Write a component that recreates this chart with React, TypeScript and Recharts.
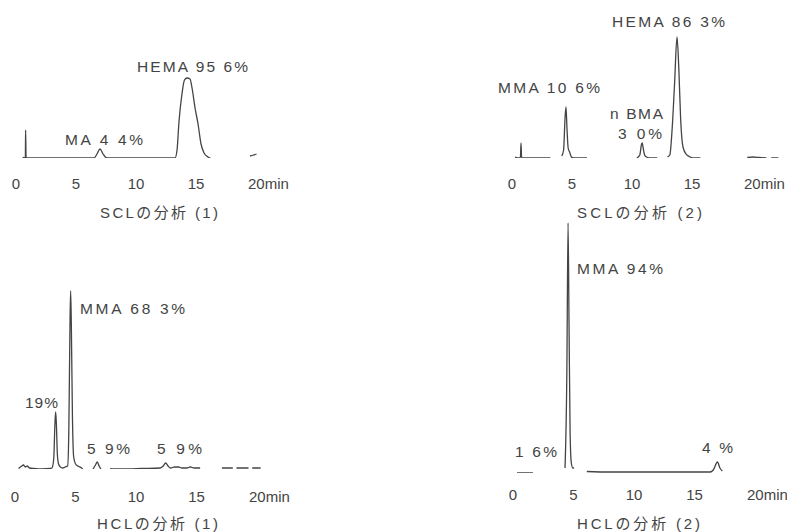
import React from 'react';
import { LineChart, Line, XAxis, YAxis } from 'recharts';

// ---- data: [time (min), detector signal] ; null = pen lifted
const timeTicks = [0, 5, 10, 15, 20];

const scl1Trace: [number, number | null][] = [
  [0.55, 0.5], [0.78, 0], [0.8, 28], [0.84, 1], [0.92, 0], [3, 0], [5, 0], [6.5, 0],
  [6.75, 4], [7.0, 9], [7.25, 4], [7.5, 0.5], [7.7, 0], [10, 0], [12.5, 0], [13.25, 0],
  [13.42, 8], [13.58, 36], [13.83, 64], [14.04, 78], [14.25, 80], [14.5, 79], [14.67, 70],
  [14.92, 50], [15.17, 34], [15.42, 14], [15.67, 5], [16.0, 1], [16.2, 0], [16.3, null],
  [19.5, 2], [19.8, 3], [20.05, 4],
];

const scl2Trace: [number, number | null][] = [
  [0.25, 1], [0.55, 0], [0.7, 0], [0.75, 15], [0.8, 1], [0.9, 0], [3.2, 0], [3.3, null],
  [4.15, 2], [4.3, 8], [4.42, 40], [4.5, 51], [4.58, 30], [4.68, 10], [4.8, 6], [4.95, 1],
  [5.1, 0], [6.25, 0], [6.3, null],
  [10.4, 0], [10.65, 3], [10.78, 13], [10.85, 15], [10.93, 10], [11.05, 3], [11.2, 1],
  [11.6, 0], [12.1, 0], [12.2, null],
  [12.95, 1], [13.15, 3], [13.35, 30], [13.55, 75], [13.75, 121], [13.9, 90], [14.05, 40],
  [14.25, 11], [14.5, 4], [14.85, 1], [15.2, 0], [15.7, 0], [15.8, null],
  [19.6, 0.5], [20.1, 1], [20.6, 0.5], [21.2, 0], [21.4, null], [21.6, 0], [22.2, 0],
];

const hcl1Trace: [number, number | null][] = [
  [0.3, 0.5], [0.55, 3], [0.7, 4], [0.85, 2], [1.0, 3], [1.2, 1], [1.6, 0.5], [2.2, 0],
  [2.9, 0.5], [3.05, 1], [3.2, 10], [3.3, 45], [3.36, 57], [3.42, 45], [3.5, 15], [3.6, 5],
  [3.75, 2], [3.95, 1], [4.15, 2], [4.35, 3], [4.45, 40], [4.55, 150], [4.6, 178],
  [4.66, 140], [4.75, 50], [4.85, 12], [5.0, 5], [5.2, 3], [5.5, 1], [5.6, 0], [5.7, null],
  [6.45, 0], [6.65, 4], [6.8, 7], [6.95, 3], [7.1, 0], [7.2, null],
  [7.85, 0], [9, 0], [10.5, 0.5], [12.0, 1], [12.25, 3], [12.45, 6], [12.65, 3], [12.85, 1],
  [13.2, 2], [13.5, 2], [13.8, 1], [14.2, 1], [14.5, 2], [14.8, 1], [15.3, 1], [15.4, null],
  [17.1, 1], [18.0, 1], [18.1, null], [18.3, 1], [19.3, 1], [19.4, null], [19.6, 1], [20.3, 1],
];

const hcl2Trace: [number, number | null][] = [
  [0.33, 0], [1.65, 0], [1.7, null],
  [4.3, 5], [4.45, 100], [4.55, 250], [4.63, 150], [4.72, 40], [4.82, 10], [4.95, 5],
  [5.05, 5], [5.1, null],
  [6.1, 1.5], [8, 1], [10, 1], [12, 1], [14, 1], [16.3, 1], [16.55, 3], [16.9, 11],
  [17.1, 5], [17.3, 2],
];

const scl1Labels = ['HEMA 95 6%', 'MA 4 4%'];
const scl2Labels = ['HEMA 86 3%', 'MMA 10 6%', 'n BMA', '3 0%'];
const hcl1Labels = ['MMA 68 3%', '19%', '5 9%', '5 9%'];
const hcl2Labels = ['MMA 94%', '1 6%', '4 %'];
const captions = ['SCLの分析 (1)', 'SCLの分析 (2)', 'HCLの分析 (1)', 'HCLの分析 (2)'];

const toRows = (trace: [number, number | null][]) => trace.map(([t, v]) => ({ t, v }));

const INK = '#444444';
const FONT = '"Liberation Sans", Arial, "Noto Sans CJK JP", sans-serif';

const makeTick = (tickFont: number) => (props: any) => {
  const { x, y, payload } = props;
  const val = payload.value;
  if (val === 20) {
    return (
      <text x={x - 8} y={y} dominantBaseline="central" textAnchor="start"
        fontSize={tickFont} fill={INK} fontFamily={FONT}>20min</text>
    );
  }
  return (
    <text x={x} y={y} dominantBaseline="central" textAnchor="middle"
      fontSize={tickFont} fill={INK} fontFamily={FONT}>{val}</text>
  );
};

type PanelProps = {
  trace: [number, number | null][];
  x0: number; // pixel of t = 0
  pxPerMin: number;
  baseline: number; // pixel of signal 0
  yMax: number;
  tickGap: number;
};

const M = 20;

function Panel({ trace, x0, pxPerMin, baseline, yMax, tickGap }: PanelProps) {
  const plotW = 23 * pxPerMin;
  const plotH = yMax;
  const axisH = 40;
  return (
    <div style={{ position: 'absolute', left: x0 - M, top: baseline - plotH }}>
      <LineChart width={plotW + 2 * M} height={plotH + axisH} data={toRows(trace)}
        margin={{ top: 0, right: M, bottom: 0, left: M }}>
        <XAxis dataKey="t" type="number" domain={[0, 23]} ticks={timeTicks} interval={0}
          axisLine={false} tickLine={false} tickSize={0} tickMargin={tickGap}
          height={axisH} tick={makeTick(15)} allowDataOverflow />
        <YAxis hide type="number" domain={[0, yMax]} allowDataOverflow />
        <Line dataKey="v" type="monotone" stroke={INK} strokeWidth={1.3} dot={false}
          activeDot={false} isAnimationActive={false} connectNulls={false} />
      </LineChart>
    </div>
  );
}

function Label({ x, y, w, children, size = 15.5 }: { x: number; y: number; w: number; children: React.ReactNode; size?: number }) {
  return (
    <text x={x} y={y} textLength={w} lengthAdjust="spacing" dominantBaseline="central"
      fontSize={size} fill={INK} fontFamily={FONT}>{children}</text>
  );
}

export default function App() {
  return (
    <div style={{ position: 'absolute', left: 0, top: 0, width: 787, height: 532, overflow: 'hidden', background: '#fff' }}>
      <Panel trace={scl1Trace} x0={16} pxPerMin={12} baseline={158} yMax={130} tickGap={25} />
      <Panel trace={scl2Trace} x0={512} pxPerMin={12} baseline={158} yMax={130} tickGap={25} />
      <Panel trace={hcl1Trace} x0={15} pxPerMin={12.1} baseline={469} yMax={260} tickGap={28} />
      <Panel trace={hcl2Trace} x0={513} pxPerMin={12.1} baseline={473} yMax={260} tickGap={22} />
      <svg width={787} height={532} style={{ position: 'absolute', left: 0, top: 0, pointerEvents: 'none' }}>
        <Label x={137} y={66} w={111}>{scl1Labels[0]}</Label>
        <Label x={65} y={139} w={78}>{scl1Labels[1]}</Label>

        <Label x={612} y={21} w={113}>{scl2Labels[0]}</Label>
        <Label x={498} y={87} w={102}>{scl2Labels[1]}</Label>
        <Label x={610} y={113} w={53}>{scl2Labels[2]}</Label>
        <Label x={618} y={133} w={44}>{scl2Labels[3]}</Label>

        <Label x={80} y={308} w={105}>{hcl1Labels[0]}</Label>
        <Label x={25} y={402} w={33}>{hcl1Labels[1]}</Label>
        <Label x={87} y={448} w={43}>{hcl1Labels[2]}</Label>
        <Label x={157} y={448} w={45}>{hcl1Labels[3]}</Label>

        <Label x={577} y={268} w={86}>{hcl2Labels[0]}</Label>
        <Label x={515} y={451} w={42}>{hcl2Labels[1]}</Label>
        <Label x={702} y={447} w={31}>{hcl2Labels[2]}</Label>

        <Label x={100} y={212} w={118} size={15}>{captions[0]}</Label>
        <Label x={577} y={212} w={125} size={15}>{captions[1]}</Label>
        <Label x={97} y={523} w={121} size={15}>{captions[2]}</Label>
        <Label x={577} y={523} w={123} size={15}>{captions[3]}</Label>
      </svg>
    </div>
  );
}
